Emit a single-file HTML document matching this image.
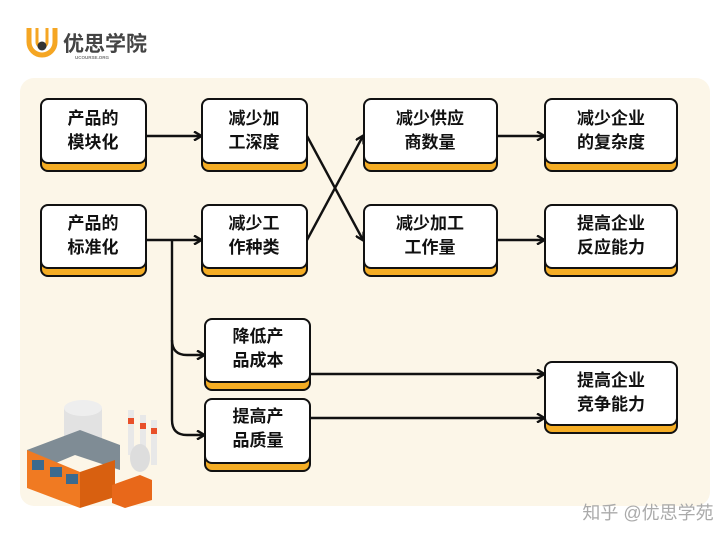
<!DOCTYPE html>
<html><head><meta charset="utf-8"><style>
body{margin:0;width:720px;height:540px;background:#fff;overflow:hidden}
text{font-family:"Liberation Sans","Noto Sans CJK SC",sans-serif;font-weight:bold;font-size:17px;fill:#111;text-anchor:middle}
</style></head><body>
<svg width="720" height="540" viewBox="0 0 720 540">
<defs><marker id="a" markerWidth="10" markerHeight="10" refX="8" refY="5" orient="auto" markerUnits="userSpaceOnUse"><path d="M1,0.5 L8.5,5 L1,9.5" fill="none" stroke="#111" stroke-width="2.4"/></marker></defs>
<rect x="20" y="78" width="690" height="428" rx="14" fill="#fcf6e8"/>
<!-- logo -->
<path d="M29,28 v14 a13,13 0 0 0 26,0 v-14" fill="none" stroke="#f5a623" stroke-width="5"/>
<path d="M37,28 v14 a5,5 0 0 0 10,0 v-14" fill="none" stroke="#f5a623" stroke-width="3"/>
<circle cx="42" cy="46" r="4.5" fill="#333"/>
<text x="105" y="51" style="font-size:21px;fill:#444">优思学院</text>
<text x="92" y="59" style="font-size:4.5px;fill:#777">UCOURSE.ORG</text>
<g stroke="#111" stroke-width="2.4" fill="none">
<line x1="146" y1="136" x2="201" y2="136" marker-end="url(#a)"/>
<line x1="146" y1="240" x2="201" y2="240" marker-end="url(#a)"/>
<line x1="307" y1="136" x2="363" y2="240" marker-end="url(#a)"/>
<line x1="307" y1="240" x2="363" y2="136" marker-end="url(#a)"/>
<line x1="497" y1="136" x2="544" y2="136" marker-end="url(#a)"/>
<line x1="497" y1="240" x2="544" y2="240" marker-end="url(#a)"/>
<path d="M172,240 V340 Q172,355 187,355 H204" marker-end="url(#a)"/>
<path d="M172,340 V420 Q172,435 187,435 H204" marker-end="url(#a)"/>
<line x1="310" y1="374" x2="544" y2="374" marker-end="url(#a)"/>
<line x1="310" y1="418" x2="544" y2="418" marker-end="url(#a)"/>
</g>
<g stroke="#111" stroke-width="2">
<rect x="41" y="106" width="105" height="65" rx="7" fill="#f5ad24"/><rect x="41" y="99" width="105" height="64" rx="7" fill="#fff"/>
<rect x="202" y="106" width="105" height="65" rx="7" fill="#f5ad24"/><rect x="202" y="99" width="105" height="64" rx="7" fill="#fff"/>
<rect x="364" y="106" width="133" height="65" rx="7" fill="#f5ad24"/><rect x="364" y="99" width="133" height="64" rx="7" fill="#fff"/>
<rect x="545" y="106" width="132" height="65" rx="7" fill="#f5ad24"/><rect x="545" y="99" width="132" height="64" rx="7" fill="#fff"/>
<rect x="41" y="211" width="105" height="65" rx="7" fill="#f5ad24"/><rect x="41" y="205" width="105" height="63" rx="7" fill="#fff"/>
<rect x="202" y="211" width="105" height="65" rx="7" fill="#f5ad24"/><rect x="202" y="205" width="105" height="63" rx="7" fill="#fff"/>
<rect x="364" y="211" width="133" height="65" rx="7" fill="#f5ad24"/><rect x="364" y="205" width="133" height="63" rx="7" fill="#fff"/>
<rect x="545" y="211" width="132" height="65" rx="7" fill="#f5ad24"/><rect x="545" y="205" width="132" height="63" rx="7" fill="#fff"/>
<rect x="205" y="325" width="105" height="65" rx="7" fill="#f5ad24"/><rect x="205" y="319" width="105" height="63" rx="7" fill="#fff"/>
<rect x="205" y="405" width="105" height="66" rx="7" fill="#f5ad24"/><rect x="205" y="399" width="105" height="64" rx="7" fill="#fff"/>
<rect x="545" y="368" width="132" height="65" rx="7" fill="#f5ad24"/><rect x="545" y="362" width="132" height="63" rx="7" fill="#fff"/>
</g>
<text x="93" y="124">产品的</text><text x="93" y="148">模块化</text>
<text x="254" y="124">减少加</text><text x="254" y="148">工深度</text>
<text x="430" y="124">减少供应</text><text x="430" y="148">商数量</text>
<text x="611" y="124">减少企业</text><text x="611" y="148">的复杂度</text>
<text x="93" y="229">产品的</text><text x="93" y="253">标准化</text>
<text x="254" y="229">减少工</text><text x="254" y="253">作种类</text>
<text x="430" y="229">减少加工</text><text x="430" y="253">工作量</text>
<text x="611" y="229">提高企业</text><text x="611" y="253">反应能力</text>
<text x="258" y="342">降低产</text><text x="258" y="366">品成本</text>
<text x="258" y="422">提高产</text><text x="258" y="446">品质量</text>
<text x="611" y="386">提高企业</text><text x="611" y="410">竞争能力</text>
<!-- factory -->
<rect x="64" y="408" width="38" height="40" fill="#e2e2e2"/>
<ellipse cx="83" cy="408" rx="19" ry="8" fill="#eeeeee"/>
<rect x="128" y="410" width="6" height="45" fill="#e8e8e8"/><rect x="140" y="415" width="6" height="45" fill="#e8e8e8"/><rect x="151" y="420" width="6" height="45" fill="#e8e8e8"/>
<rect x="128" y="418" width="6" height="6" fill="#e8502a"/><rect x="140" y="423" width="6" height="6" fill="#e8502a"/><rect x="151" y="428" width="6" height="6" fill="#e8502a"/>
<ellipse cx="140" cy="458" rx="10" ry="14" fill="#ddd"/>
<polygon points="27,450 80,430 120,445 120,470 75,455 27,475" fill="#7f8c95"/>
<polygon points="27,450 80,472 80,508 27,488" fill="#f07a22"/>
<polygon points="80,472 115,460 115,497 80,508" fill="#d86010"/>
<polygon points="112,485 140,475 152,480 152,500 125,508 112,503" fill="#e8681a"/>
<rect x="32" y="460" width="12" height="10" fill="#3b6a8f"/><rect x="50" y="467" width="12" height="10" fill="#3b6a8f"/><rect x="66" y="474" width="12" height="10" fill="#3b6a8f"/>
<text x="648" y="519" style="font-size:18px;font-weight:normal;fill:#aaa">知乎 @优思学苑</text>
</svg>
</body></html>
